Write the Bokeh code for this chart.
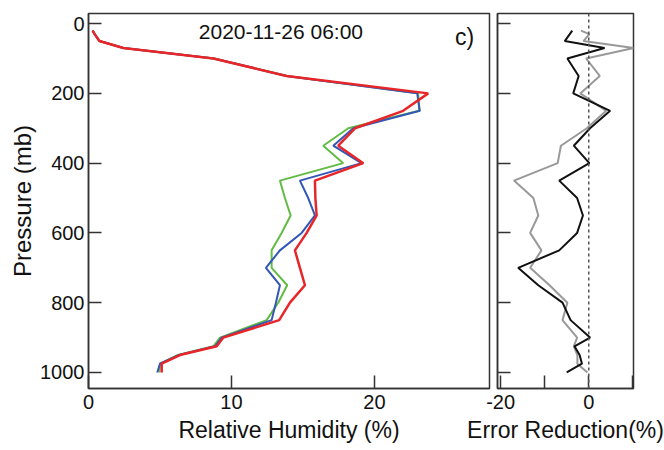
from bokeh.plotting import figure
from bokeh.layouts import row
from bokeh.models import FixedTicker, Range1d, Span, Label
from bokeh.embed import file_html
from bokeh.resources import INLINE

# ---------------- data ----------------
levels = [20, 30, 50, 70, 100, 150, 200, 250, 300, 350, 400, 450, 500, 550,
          600, 650, 700, 750, 800, 850, 900, 925, 950, 975, 1000]

rh_red = [0.29, 0.43, 0.76, 2.43, 8.73, 13.86, 23.76, 22.01, 18.64, 17.47, 19.22,
          15.84, 15.87, 15.96, 15.26, 14.44, 14.79, 15.14, 14.09, 13.34, 9.43,
          8.97, 6.40, 5.12, 5.12]
rh_green = [0.29, 0.43, 0.78, 2.45, 8.80, 13.90, 23.06, 23.13, 18.17, 16.42, 17.82,
            13.39, 13.74, 14.14, 13.51, 12.81, 12.81, 13.90, 13.27, 12.46, 9.20,
            8.73, 6.26, 5.00, 4.95]
rh_blue = [0.29, 0.43, 0.77, 2.44, 8.76, 13.84, 22.99, 23.18, 18.52, 17.12, 19.10,
           14.79, 15.37, 15.84, 14.91, 13.39, 12.41, 13.39, 13.11, 12.81, 9.31,
           8.85, 6.33, 5.00, 4.81]

er_levels_black = [20, 50, 70, 100, 150, 200, 250, 300, 350, 400, 450, 500, 550,
                   600, 650, 700, 750, 800, 850, 900, 925, 950, 975, 1000]
er_black = [-3.74, -5.44, 3.59, -4.85, -2.29, -3.52, 4.85, 0.29, -3.39, 0.13,
            -6.70, -2.64, -1.32, -2.64, -6.70, -16.01, -11.45, -5.95, -4.12, 0.29,
            -3.24, -2.07, -1.54, -5.0]
er_gray = [-1.76, 0.13, -1.19, 10.2, -0.59, 2.49, -1.92, 3.96, -0.44, -6.32, -7.05,
           -16.96, -12.56, -11.45, -13.30, -10.73, -13.30, -8.90, -4.85, -5.95,
           -2.64, -3.39, -2.58, -2.58, -0.31]

title_text = "2020-11-26 06:00"
panel_tag = "c)"
y_ticks = [0, 200, 400, 600, 800, 1000]
rh_ticks = [0, 10, 20]
er_labelled_ticks = [-20, 0]
er_tick_labels = {-20: "-20", 0: "0"}
er_unlabelled_ticks = [-10, 10]

FONT = "Liberation Sans"
FRAME = "#333333"


def style(p):
    p.outline_line_color = FRAME
    p.outline_line_width = 1.5
    p.xgrid.visible = False
    p.ygrid.visible = False
    p.background_fill_color = "white"
    for ax in p.axis:
        ax.major_tick_in = 13
        ax.major_tick_out = 0
        ax.minor_tick_in = 13
        ax.minor_tick_out = 0
        ax.axis_line_color = FRAME
        ax.axis_line_width = 1.5
        ax.major_tick_line_color = FRAME
        ax.major_tick_line_width = 1.5
        ax.minor_tick_line_color = FRAME
        ax.minor_tick_line_width = 1.5
        ax.major_label_text_font = FONT
        ax.major_label_text_font_size = "20px"
        ax.major_label_text_color = "#111111"
        ax.axis_label_text_font = FONT
        ax.axis_label_text_font_size = "23px"
        ax.axis_label_text_font_style = "normal"
        ax.axis_label_text_color = "#111111"


# ---------------- main panel ----------------
p1 = figure(width=492, height=450, output_backend="svg", toolbar_location=None,
            x_range=Range1d(0, 28.05), y_range=Range1d(1046, -29),
            min_border_left=88, min_border_right=3, min_border_top=13,
            min_border_bottom=62)
p1.border_fill_color = "white"
style(p1)
p1.xaxis.ticker = FixedTicker(ticks=rh_ticks, minor_ticks=[])
p1.yaxis.ticker = FixedTicker(ticks=y_ticks, minor_ticks=[])
p1.xaxis.axis_label = "Relative Humidity (%)"
p1.yaxis.axis_label = "Pressure (mb)"
p1.yaxis.axis_label_text_font_size = "24px"
p1.yaxis.major_label_standoff = 4
p1.yaxis.axis_label_standoff = 1
p1.xaxis.major_label_standoff = 6
p1.xaxis.axis_label_standoff = 5

p1.line(rh_green, levels, line_color="#62bb45", line_width=2)
p1.line(rh_blue, levels, line_color="#3456b5", line_width=2)
p1.line(rh_red, levels, line_color="#e82629", line_width=2.5)

p1.add_layout(Label(x=13.46, y=21.5, text=title_text, text_align="center",
                    text_baseline="middle", text_font=FONT,
                    text_font_size="21px", text_color="#111111"))
p1.add_layout(Label(x=26.3, y=39, text=panel_tag, text_align="center",
                    text_baseline="middle", text_font=FONT,
                    text_font_size="23px", text_color="#111111"))

# ---------------- right panel (overlaps p1's margin, transparent border) ----------------
p2 = figure(width=202, height=450, output_backend="svg", toolbar_location=None,
            x_range=Range1d(-20.7, 10.15), y_range=Range1d(1046, -29),
            min_border_left=35, min_border_right=31, min_border_top=13,
            min_border_bottom=62, margin=(0, 0, 0, -30))
p2.border_fill_color = None
style(p2)
p2.xaxis.ticker = FixedTicker(ticks=er_labelled_ticks, minor_ticks=er_unlabelled_ticks)
p2.xaxis.major_label_overrides = er_tick_labels
p2.xaxis.axis_label = "Error Reduction(%)"
p2.xaxis.major_label_standoff = 6
p2.xaxis.axis_label_standoff = 5
p2.yaxis.ticker = FixedTicker(ticks=[], minor_ticks=y_ticks)
p2.yaxis.major_label_standoff = 0

p2.add_layout(Span(location=0, dimension="height", line_color="#555555",
                   line_width=1.5, line_dash="3 3"))
p2.line(er_gray, levels, line_color="#999999", line_width=2)
p2.line(er_black, er_levels_black, line_color="#111111", line_width=2)

layout = row(p1, p2)
open("out.html", "w").write(file_html(layout, INLINE))
